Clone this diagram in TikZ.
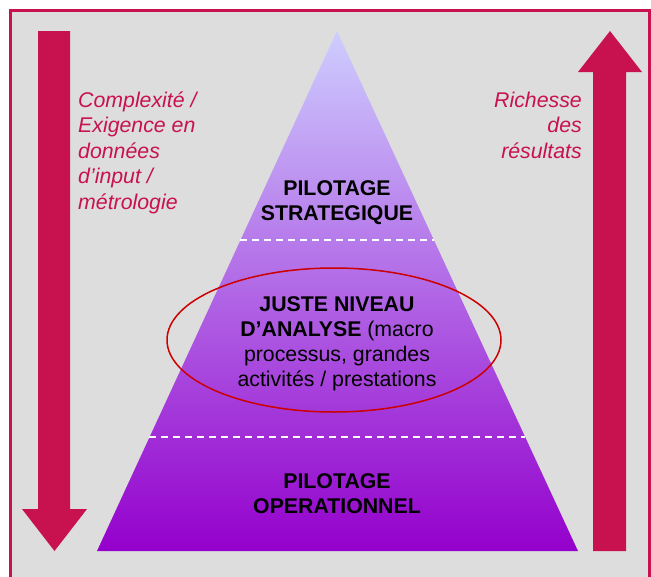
\documentclass[tikz,border=0pt]{standalone}
\usepackage{fontspec}
\setmainfont{Liberation Sans}
\definecolor{crimson}{RGB}{200,18,80}
\definecolor{panel}{RGB}{221,221,221}
\definecolor{lavender}{RGB}{206,206,255}
\definecolor{violet}{RGB}{148,0,204}
\definecolor{ringred}{RGB}{204,0,0}
\tikzset{
  level/.style={align=center,inner sep=0pt,anchor=north,
    font=\fontsize{21.3}{25}\selectfont\bfseries},
  side/.style={inner sep=0pt,text=crimson,
    font=\fontsize{21.3}{25.5}\selectfont\itshape},
  split/.style={white,line width=1.5pt,dash pattern=on 7pt off 5pt}
}
\begin{document}
\begin{tikzpicture}[x=1pt,y=-1pt]
  \useasboundingbox (0,0) rectangle (651,576);
  \fill[white] (0,0) rectangle (651,576);
  \fill[panel] (10.5,10.5) rectangle (650,590);
  \draw[crimson,line width=3.5pt] (10.5,590) -- (10.5,10.5) -- (650,10.5) -- (650,590);

  \fill[crimson] (38,31) -- (70,31) -- (70,509) -- (87,509) -- (54.5,551)
    -- (22,509) -- (38,509) -- cycle;
  \fill[crimson] (593,551) -- (626,551) -- (626,72) -- (642,72) -- (610,31)
    -- (578,72) -- (593,72) -- cycle;

  \shade[top color=lavender,bottom color=violet] (97,551) -- (337,31) -- (578,551) -- cycle;
  \draw[split] (240,240) -- (434,240);
  \draw[split] (149,437) -- (525,437);

  \node[level] (strat) at (337,180.5) {PILOTAGE\\STRATEGIQUE};
  \node[level] (juste) at (337,296.5) {JUSTE NIVEAU\\D’ANALYSE \mdseries(macro\\
    \mdseries processus, grandes\\ \mdseries activités / prestations};
  \node[level] (oper) at (337,473) {PILOTAGE\\OPERATIONNEL};
  \draw[ringred,line width=1.5pt] (334,340) ellipse [x radius=167,y radius=72];

  \node[side,align=left,anchor=north west] (complex) at (78,91.5)
    {Complexité /\\Exigence en\\données\\d’input /\\métrologie};
  \node[side,align=right,anchor=north east] (richesse) at (582,91.5)
    {Richesse\\des\\résultats};
\end{tikzpicture}
\end{document}
